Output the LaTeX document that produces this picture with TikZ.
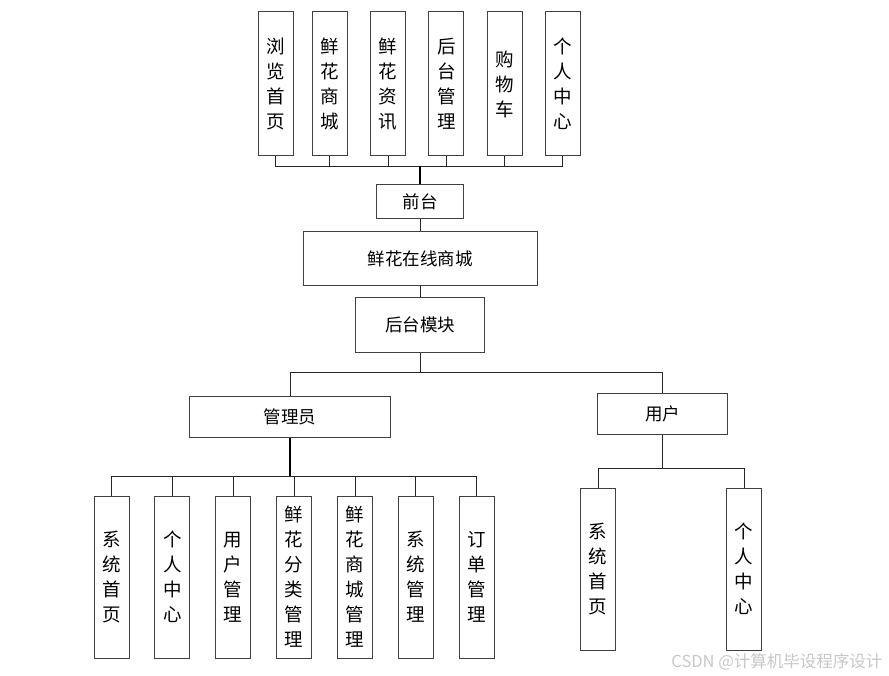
\documentclass[tikz,border=0pt]{standalone}
\usepackage{fontspec}
\newfontfamily\cjk{Noto Sans CJK SC}
\usepackage{tikz}
\usetikzlibrary{positioning}

\begin{document}
\begin{tikzpicture}[x=1pt, y=-1pt,
		box/.style={draw=black!75, line width=1pt, fill=white, inner sep=0pt,
			font=\cjk\fontsize{17.5}{24}\selectfont},
		vbox/.style={box, align=center, minimum width=35pt, minimum height=#1,
			font=\cjk\fontsize{18.5}{25}\selectfont},
		hbox/.style={box, minimum height=#1},
		link/.style={draw=black!85, line width=0.9pt},
		trunk/.style={draw=black, line width=1.6pt}]
		\useasboundingbox (0,0) rectangle (889,676);
		% 前台功能
		\node[vbox=144pt] (llsy) at (275.8,84) {浏\\览\\首\\页};
		\node[vbox=144pt] (xhsc) at (329.8,84) {鲜\\花\\商\\城};
		\node[vbox=144pt] (xhzx) at (388,84) {鲜\\花\\资\\讯};
		\node[vbox=144pt] (htgl) at (446.3,84) {后\\台\\管\\理};
		\node[vbox=144pt] (gwc) at (504.5,84) {购\\物\\车};
		\node[vbox=144pt] (grzx) at (562.8,84) {个\\人\\中\\心};
		% 主干
		\node[hbox=34pt, minimum width=87pt] (qt) at (420,202) {前台};
		\node[hbox=54pt, minimum width=234pt] (shop) at (420,258.7) {鲜花在线商城};
		\node[hbox=55pt, minimum width=129pt] (htmk) at (420,325.3) {后台模块};
		% 角色
		\node[hbox=41pt, minimum width=201pt] (gly) at (290,416.7) {管理员};
		\node[hbox=41pt, minimum width=130pt] (yh) at (662.5,413.8) {用户};
		% 管理员功能
		\node[vbox=162pt] (a1) at (111.5,577) {系\\统\\首\\页};
		\node[vbox=162pt] (a2) at (172.3,577) {个\\人\\中\\心};
		\node[vbox=162pt] (a3) at (233.2,577) {用\\户\\管\\理};
		\node[vbox=162pt] (a4) at (294.2,577) {鲜\\花\\分\\类\\管\\理};
		\node[vbox=162pt] (a5) at (355,577) {鲜\\花\\商\\城\\管\\理};
		\node[vbox=162pt] (a6) at (415.8,577) {系\\统\\管\\理};
		\node[vbox=162pt] (a7) at (476.8,577) {订\\单\\管\\理};
		% 用户功能
		\node[vbox=162pt] (u1) at (598,569.2) {系\\统\\首\\页};
		\node[vbox=162pt] (u2) at (744,569.2) {个\\人\\中\\心};
		% 分支点
		\coordinate (topbus) at (420,166);
		\coordinate (rolebus) at (420,372.3);
		\coordinate (glybus) at (290,476);
		\coordinate (yhbus) at (662.5,468.3);
		% 连线
		\foreach \n in {llsy,xhsc,xhzx,htgl,gwc,grzx}
			\draw[link] (\n.south) |- (topbus);
		\draw[trunk] (topbus) -- (qt.north);
		\draw[link] (qt.south) -- (shop.north);
		\draw[link] (shop.south) -- (htmk.north);
		\draw[link] (htmk.south) -- (rolebus);
		\draw[link] (rolebus) -| (gly.north);
		\draw[link] (rolebus) -| (yh.north);
		\draw[trunk] (gly.south) -- (glybus);
		\foreach \n in {a1,a2,a3,a4,a5,a6,a7}
			\draw[link] (glybus) -| (\n.north);
		\draw[link] (yh.south) -- (yhbus);
		\draw[link] (yhbus) -| (u1.north);
		\draw[link] (yhbus) -| (u2.north);
		% 水印
		\node[text=black!22, font=\cjk\fontsize{16.5}{18}\selectfont, anchor=east] (wm) at (886,661.5) {CSDN @计算机毕设程序设计};
	\end{tikzpicture}
\end{document}
